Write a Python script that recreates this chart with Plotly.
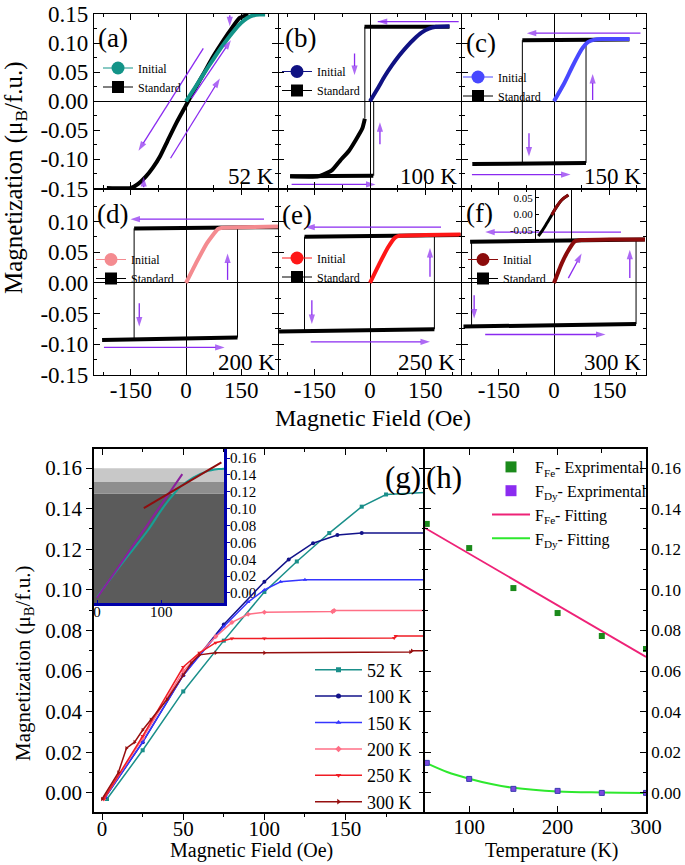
import plotly.graph_objects as go

FONT = "Liberation Serif, Times New Roman, serif"
FIG_W, FIG_H = 685, 865

# ======================= DATA =======================
# ---- top panels (a)-(f): hysteresis loops, field in Oe, M in muB/f.u.
TOP_XTICKS = [-150, 0, 150]
TOP_XMINOR = [-225, -75, 75, 225]
ROW1_YTICKS = [-0.15, -0.10, -0.05, 0.00, 0.05, 0.10, 0.15]
ROW2_YTICKS = [-0.15, -0.10, -0.05, 0.00, 0.05, 0.10]
TOP_YMINOR = [-0.125, -0.075, -0.025, 0.025, 0.075, 0.125]
TEMP_LABELS = ["52 K", "100 K", "150 K", "200 K", "250 K", "300 K"]
PANEL_LABELS = ["(a)", "(b)", "(c)", "(d)", "(e)", "(f)"]
INIT_COLORS = ["#139488", "#101283", "#4848ff", "#f48b90", "#ff1717", "#8b0b0b"]

INIT_A_H = [0, 25, 50, 75, 100, 125, 150, 175, 200, 215]
INIT_A_M = [0.000, 0.024, 0.049, 0.073, 0.096, 0.117, 0.135, 0.146, 0.149, 0.149]
INIT_B_H = [0, 20, 40, 60, 80, 100, 120, 140, 160, 180, 216]
INIT_B_M = [0.000, 0.021, 0.043, 0.062, 0.079, 0.094, 0.107, 0.118, 0.125, 0.128, 0.129]
INIT_C_H = [0, 27, 51, 75, 93, 110, 130, 205]
INIT_C_M = [0.000, 0.030, 0.061, 0.089, 0.102, 0.106, 0.107, 0.107]
INIT_D_H = [0, 27, 57, 87, 99, 150, 250]
INIT_D_M = [0.000, 0.032, 0.065, 0.088, 0.090, 0.091, 0.092]
INIT_E_H = [0, 26, 50, 68, 80, 150, 246]
INIT_E_M = [0.000, 0.032, 0.059, 0.074, 0.077, 0.078, 0.079]
INIT_F_H = [0, 21, 39, 57, 75, 150, 247]
INIT_F_M = [0.000, 0.032, 0.053, 0.068, 0.070, 0.071, 0.071]

# standard loop branches (thick) : list of (field list, M list)
STD_A = [([-215, -150, -130, -110, -90, -70, -50, -25, 0, 25, 50, 75, 100, 125, 145, 170],
          [-0.149, -0.149, -0.142, -0.130, -0.114, -0.094, -0.068, -0.036, -0.007, 0.022,
           0.050, 0.078, 0.103, 0.126, 0.143, 0.149])]
STD_B = [([216, -15], [0.128, 0.128]),
         ([-14, -21, -39, -57, -81, -104, -140, -217],
          [-0.030, -0.047, -0.067, -0.085, -0.102, -0.119, -0.129, -0.129]),
         ([-217, 9], [-0.129, -0.128])]
STD_C = [([205, -86], [0.106, 0.105]), ([-222, 87], [-0.108, -0.106])]
STD_D = [([250, -141], [0.091, 0.089]), ([-228, 140], [-0.093, -0.089])]
STD_E = [([246, -178], [0.078, 0.0755]), ([-247, 175], [-0.079, -0.0755])]
STD_F = [([247, -228], [0.071, 0.067]), ([-246, 223], [-0.071, -0.067])]
# switching jumps (thin): (field, M from, M to)
JUMPS_A = []
JUMPS_B = [(-14, 0.128, -0.030), (10, -0.128, 0.000)]
JUMPS_C = [(-86, 0.105, -0.107), (87, -0.106, 0.105)]
JUMPS_D = [(-141, 0.089, -0.092), (140, -0.089, 0.090)]
JUMPS_E = [(-178, 0.0755, -0.078), (175, -0.0755, 0.078)]
JUMPS_F = [(-224, 0.067, -0.071), (223, -0.067, 0.071)]
# sweep-direction arrows: (tail field, tail M, head field, head M)
ARROWS_A = [(47, 0.091, -129, -0.085), (15, 0.005, 122, 0.105), (-42, -0.098, 92, 0.039),
            (119, 0.148, 119, 0.129), (-115, -0.148, -115, -0.130)]
ARROWS_B = [(241, 0.137, 21, 0.137), (-42, 0.082, -42, 0.045), (27, -0.074, 27, -0.036),
            (-213, -0.143, 15, -0.143)]
ARROWS_C = [(235, 0.117, -74, 0.117), (-68, -0.055, -68, -0.095), (105, 0.002, 105, 0.047),
            (-223, -0.126, 45, -0.126)]
ARROWS_D = [(212, 0.104, -151, 0.104), (-127, -0.033, -127, -0.071), (113, 0.005, 113, 0.048),
            (-223, -0.105, 105, -0.105)]
ARROWS_E = [(193, 0.091, -176, 0.091), (-158, -0.028, -158, -0.067), (163, 0.010, 163, 0.057),
            (-161, -0.096, 163, -0.096)]
ARROWS_F = [(182, 0.083, -187, 0.083), (-217, -0.020, -217, -0.058), (39, 0.008, 75, 0.048),
            (206, 0.008, 206, 0.054), (-187, -0.084, 140, -0.084)]

# inset of (f)
INSET_F_H = [-52, -41, -23, -6, 11, 28, 51]
INSET_F_M = [-0.0666, -0.0534, -0.0276, -0.002, 0.0233, 0.0439, 0.0592]
INSET_F_YTICKS = [-0.05, 0.00, 0.05]

# ---- panel (g): initial magnetization curves
G_TEMPS = ["52 K", "100 K", "150 K", "200 K", "250 K", "300 K"]
G_COLORS = ["#1a8f8a", "#12128a", "#3535ff", "#ff6f86", "#f01c24", "#960f0f"]
G_SYMBOLS = ["square", "circle", "triangle-up", "diamond", "triangle-down", "triangle-right"]
G52_H = [3, 25, 50, 75, 100, 120, 140, 160, 175, 199]
G52_M = [-0.003, 0.021, 0.050, 0.075, 0.099, 0.114, 0.128, 0.141, 0.147, 0.148]
G100_H = [2, 25, 50, 75, 100, 115, 130, 145, 160, 199]
G100_M = [-0.002, 0.025, 0.058, 0.083, 0.104, 0.115, 0.123, 0.127, 0.128, 0.128]
G150_H = [2, 25, 50, 75, 90, 100, 110, 125, 199]
G150_M = [-0.002, 0.025, 0.058, 0.082, 0.094, 0.100, 0.104, 0.105, 0.105]
G200_H = [1, 25, 50, 70, 80, 90, 100, 142, 143, 199]
G200_M = [-0.003, 0.027, 0.060, 0.077, 0.084, 0.088, 0.089, 0.0893, 0.0898, 0.0898]
G250_H = [1, 25, 50, 60, 70, 80, 100, 180, 181, 199]
G250_M = [-0.003, 0.028, 0.062, 0.069, 0.074, 0.076, 0.076, 0.0763, 0.0773, 0.0773]
G300_H = [0, 10, 15, 20, 25, 30, 40, 50, 55, 60, 70, 100, 190, 191, 199]
G300_M = [-0.003, 0.010, 0.022, 0.025, 0.031, 0.036, 0.046, 0.058, 0.064, 0.068,
          0.0690, 0.0690, 0.0694, 0.0700, 0.0700]
G_XTICKS = [0, 50, 100, 150]
G_XMINOR = [25, 75, 125, 175]
G_YTICKS = [0.00, 0.02, 0.04, 0.06, 0.08, 0.10, 0.12, 0.14, 0.16]
G_YMINOR = [0.01, 0.03, 0.05, 0.07, 0.09, 0.11, 0.13, 0.15]

# inset of (g)
INS_G_TEAL_H = [0, 40, 80, 100, 115, 130, 150, 170, 190, 198]
INS_G_TEAL_M = [-0.005, 0.036, 0.075, 0.098, 0.113, 0.126, 0.137, 0.144, 0.147, 0.1475]
INS_G_LIN1_H = [0, 133]
INS_G_LIN1_M = [-0.006, 0.141]
INS_G_LIN2_H = [73, 194]
INS_G_LIN2_M = [0.1006, 0.155]
INS_G_BANDS = [-0.0119, 0.118, 0.1317, 0.148]
INS_G_BAND_COLORS = ["#5b5b5b", "#8e8e8e", "#c8c8c8"]
INS_G_XTICKS = [0, 100]

# ---- panel (h): fractions vs temperature
T_EXP = [52, 100, 150, 200, 250, 300]
FE_EXP = [0.1325, 0.1206, 0.1009, 0.0886, 0.0773, 0.0709]
DY_EXP = [0.0148, 0.0069, 0.0020, 0.0010, 0.0000, 0.0000]
FE_FIT_T = [50, 300]
FE_FIT_M = [0.1305, 0.067]
DY_FIT_T = [50, 75, 100, 125, 150, 200, 250, 300]
DY_FIT_M = [0.0150, 0.0103, 0.0070, 0.0044, 0.0025, 0.0007, 0.0002, 0.0000]
H_XTICKS = [100, 200, 300]
H_XMINOR = [150, 250]

ARROW_COLOR = "#8a2af0"

# ======================= LAYOUT HELPERS =======================
def px(x):
    return x / FIG_W


def py(y):
    return 1 - y / FIG_H


def ref(i, a):
    return a if i == 1 else f"{a}{i}"


def key(i, a):
    return f"{a}axis" if i == 1 else f"{a}axis{i}"


def fmt2(v):
    return f"{v:.2f}"


fig = go.Figure()
layout = {}
LW = 1.2

COLS_PX = [(94, 278), (278, 462), (462, 646)]
ROWS_PX = [(14, 188.5), (188.5, 375)]
ROW_RANGES = [[-0.15, 0.15], [-0.15, 0.154]]
ROW_YTICKS = [ROW1_YTICKS, ROW2_YTICKS]
INIT_H = [INIT_A_H, INIT_B_H, INIT_C_H, INIT_D_H, INIT_E_H, INIT_F_H]
INIT_M = [INIT_A_M, INIT_B_M, INIT_C_M, INIT_D_M, INIT_E_M, INIT_F_M]
STDS = [STD_A, STD_B, STD_C, STD_D, STD_E, STD_F]
JUMPS = [JUMPS_A, JUMPS_B, JUMPS_C, JUMPS_D, JUMPS_E, JUMPS_F]
ARROWS = [ARROWS_A, ARROWS_B, ARROWS_C, ARROWS_D, ARROWS_E, ARROWS_F]
LEG_POS = [(98, 53.5), (277, 57), (458, 62.5), (91, 245), (277, 243.5), (463, 245)]
LABEL_POS = [(113, 38), (300, 38), (481, 43), (113, 214), (297, 215), (479, 213)]
TEMP_POS = [(276, 176), (459, 176), (643, 176), (277, 363), (457, 363), (643, 363)]

TICKFONT_TOP = dict(family=FONT, size=23, color="black")
annotations = []

for i in range(6):
    n = i + 1
    row, col = divmod(i, 3)
    xr, yr = ref(n, "x"), ref(n, "y")
    c0, c1 = COLS_PX[col]
    r0, r1 = ROWS_PX[row]
    yt = ROW_YTICKS[row]
    layout[key(n, "x")] = dict(
        domain=[px(c0), px(c1)], anchor=yr, range=[-250, 250],
        tickmode="array", tickvals=TOP_XTICKS, ticktext=[str(v) for v in TOP_XTICKS],
        showticklabels=(row == 1), tickfont=TICKFONT_TOP, ticklabelstandoff=-6,
        ticks="inside", ticklen=6, tickwidth=1.2, tickcolor="black",
        minor=dict(tickmode="array", tickvals=TOP_XMINOR, ticks="inside", ticklen=3,
                   tickwidth=1, tickcolor="black"),
        showline=True, linecolor="black", linewidth=LW, mirror="allticks",
        showgrid=False, zeroline=True, zerolinecolor="black", zerolinewidth=1,
        automargin=False, fixedrange=True)
    layout[key(n, "y")] = dict(
        domain=[py(r1), py(r0)], anchor=xr, range=ROW_RANGES[row],
        tickmode="array", tickvals=yt, ticktext=[fmt2(v) for v in yt],
        showticklabels=(col == 0), tickfont=TICKFONT_TOP,
        ticks="inside", ticklen=6, tickwidth=1.2, tickcolor="black",
        minor=dict(tickmode="array", tickvals=TOP_YMINOR, ticks="inside", ticklen=3,
                   tickwidth=1, tickcolor="black"),
        showline=(col != 1), linecolor="black", linewidth=LW, mirror="allticks",
        showgrid=False, zeroline=True, zerolinecolor="black", zerolinewidth=1,
        automargin=False, fixedrange=True)

    for hs, ms in STDS[i]:
        fig.add_trace(go.Scatter(x=hs, y=ms, mode="lines",
                                 line=dict(color="black", width=4, shape="spline", smoothing=0.5),
                                 xaxis=xr, yaxis=yr, showlegend=False, hoverinfo="skip"))
    for h, m0, m1 in JUMPS[i]:
        fig.add_trace(go.Scatter(x=[h, h], y=[m0, m1], mode="lines",
                                 line=dict(color="black", width=1),
                                 xaxis=xr, yaxis=yr, showlegend=False, hoverinfo="skip"))
    fig.add_trace(go.Scatter(x=INIT_H[i], y=INIT_M[i], mode="lines",
                             line=dict(color=INIT_COLORS[i], width=4, shape="spline", smoothing=0.5),
                             xaxis=xr, yaxis=yr, showlegend=False, hoverinfo="skip"))
    # sweep-direction arrows drawn as line segments with an arrow marker at the head
    ax_x, ax_y, ax_s = [], [], []
    for th, tm, hh, hm in ARROWS[i]:
        ax_x += [th, hh, None]
        ax_y += [tm, hm, None]
        ax_s += [0, 10, 0]
    fig.add_trace(go.Scatter(x=ax_x, y=ax_y, mode="lines+markers",
                             line=dict(color=ARROW_COLOR, width=1.3),
                             marker=dict(symbol="arrow", size=ax_s, angleref="previous",
                                         color=ARROW_COLOR, line=dict(width=0)),
                             xaxis=xr, yaxis=yr, showlegend=False, hoverinfo="skip"))
    leg = "legend" if n == 1 else f"legend{n}"
    fig.add_trace(go.Scatter(x=[None], y=[None], mode="lines+markers", name="Initial",
                             line=dict(color=INIT_COLORS[i], width=1),
                             marker=dict(symbol="circle", size=13, color=INIT_COLORS[i]),
                             xaxis=xr, yaxis=yr, legend=leg))
    fig.add_trace(go.Scatter(x=[None], y=[None], mode="lines+markers", name="Standard",
                             line=dict(color="black", width=1),
                             marker=dict(symbol="square", size=12, color="black"),
                             xaxis=xr, yaxis=yr, legend=leg))
    lx, ly = LEG_POS[i]
    layout[leg] = dict(x=px(lx), y=py(ly), xanchor="left", yanchor="top",
                       bgcolor="rgba(0,0,0,0)", borderwidth=0, itemwidth=30,
                       itemsizing="trace", tracegroupgap=0,
                       font=dict(family=FONT, size=12, color="black"))
    lxp, lyp = LABEL_POS[i]
    annotations.append(dict(x=px(lxp), y=py(lyp), xref="paper", yref="paper", text=PANEL_LABELS[i],
                            showarrow=False, xanchor="center", yanchor="middle",
                            font=dict(family=FONT, size=27, color="black")))
    txp, typ = TEMP_POS[i]
    annotations.append(dict(x=px(txp), y=py(typ), xref="paper", yref="paper", text=TEMP_LABELS[i],
                            showarrow=False, xanchor="right", yanchor="middle",
                            font=dict(family=FONT, size=23, color="black")))

# ---- inset in (f)
layout["xaxis7"] = dict(domain=[px(536), px(571)], anchor="y7", range=[-60, 60], visible=False,
                        automargin=False, fixedrange=True)
layout["yaxis7"] = dict(domain=[py(241), py(190)], anchor="x7", range=[-0.082, 0.0745],
                        tickmode="array", tickvals=INSET_F_YTICKS,
                        ticktext=[fmt2(v) for v in INSET_F_YTICKS],
                        tickfont=dict(family=FONT, size=11, color="black"),
                        ticks="inside", ticklen=3, tickcolor="black",
                        showline=True, linecolor="black", linewidth=1, mirror=True,
                        showgrid=False, zeroline=False, automargin=False, fixedrange=True)
fig.add_trace(go.Scatter(x=INSET_F_H, y=INSET_F_M, mode="lines",
                         line=dict(color="black", width=3, shape="spline"),
                         xaxis="x7", yaxis="y7", showlegend=False, hoverinfo="skip"))
fig.add_trace(go.Scatter(x=INSET_F_H[3:], y=INSET_F_M[3:], mode="lines",
                         line=dict(color=INIT_COLORS[5], width=3, shape="spline"),
                         xaxis="x7", yaxis="y7", showlegend=False, hoverinfo="skip"))

# ---- inset of (g)  (axes 8)
layout["xaxis8"] = dict(domain=[px(94), px(224)], anchor="y8", range=[-4.7, 198],
                        tickmode="array", tickvals=INS_G_XTICKS,
                        ticktext=[str(v) for v in INS_G_XTICKS],
                        tickfont=dict(family=FONT, size=15, color="black"), ticklabelstandoff=-7,
                        ticks="inside", ticklen=3, tickcolor="#0000aa",
                        showline=True, linecolor="#0000aa", linewidth=3,
                        showgrid=False, zeroline=False, automargin=False, fixedrange=True)
layout["yaxis8"] = dict(domain=[py(603), py(449)], anchor="x8", range=[-0.0119, 0.1708],
                        side="right", tickmode="array", tickvals=G_YTICKS,
                        ticktext=[fmt2(v) for v in G_YTICKS],
                        tickfont=dict(family=FONT, size=15, color="black"), ticklabelstandoff=-3,
                        ticks="outside", ticklen=3, tickcolor="#0000aa",
                        showline=True, linecolor="#0000aa", linewidth=3,
                        showgrid=False, zeroline=False, automargin=False, fixedrange=True)
shapes = []
for k in range(3):
    shapes.append(dict(type="rect", xref="x8 domain", yref="y8", x0=0, x1=1,
                       y0=INS_G_BANDS[k], y1=INS_G_BANDS[k + 1],
                       fillcolor=INS_G_BAND_COLORS[k], line=dict(width=0), layer="below"))
fig.add_trace(go.Scatter(x=INS_G_TEAL_H, y=INS_G_TEAL_M, mode="lines",
                         line=dict(color="#17a096", width=2, shape="spline"),
                         xaxis="x8", yaxis="y8", showlegend=False, hoverinfo="skip"))
fig.add_trace(go.Scatter(x=INS_G_LIN1_H, y=INS_G_LIN1_M, mode="lines",
                         line=dict(color="#8b1f9e", width=2),
                         xaxis="x8", yaxis="y8", showlegend=False, hoverinfo="skip"))
fig.add_trace(go.Scatter(x=INS_G_LIN2_H, y=INS_G_LIN2_M, mode="lines",
                         line=dict(color="#8f0d0d", width=2),
                         xaxis="x8", yaxis="y8", showlegend=False, hoverinfo="skip"))

# ---- panel (g) (axes 9, overlays 11)
TICKFONT_BOT = dict(family=FONT, size=21, color="black")
G_Y_RANGE = [-0.0094, 0.1694]
layout["xaxis9"] = dict(domain=[px(94), px(425)], anchor="y9", range=[-5, 199],
                        tickmode="array", tickvals=G_XTICKS, ticktext=[str(v) for v in G_XTICKS],
                        tickfont=TICKFONT_BOT, ticklabelstandoff=-9,
                        ticks="outside", ticklen=6, tickwidth=1.2, tickcolor="black",
                        minor=dict(tickmode="array", tickvals=G_XMINOR, ticks="outside", ticklen=3,
                                   tickcolor="black"),
                        showline=True, linecolor="black", linewidth=1.5,
                        showgrid=False, zeroline=False, automargin=False, fixedrange=True)
layout["yaxis9"] = dict(domain=[py(812), py(449)], anchor="x9", range=G_Y_RANGE,
                        tickmode="array", tickvals=G_YTICKS, ticktext=[fmt2(v) for v in G_YTICKS],
                        tickfont=TICKFONT_BOT, ticks="outside", ticklen=6, tickwidth=1.2,
                        tickcolor="black",
                        minor=dict(tickmode="array", tickvals=G_YMINOR, ticks="outside", ticklen=3,
                                   tickcolor="black"),
                        showline=True, linecolor="black", linewidth=1.5,
                        showgrid=False, zeroline=False, automargin=False, fixedrange=True)
layout["xaxis11"] = dict(overlaying="x9", anchor="y9", side="top", range=[-5, 199],
                         tickmode="array", tickvals=G_XTICKS, showticklabels=False,
                         ticks="inside", ticklen=6, tickwidth=1.2, tickcolor="black",
                         minor=dict(tickmode="array", tickvals=G_XMINOR, ticks="inside", ticklen=3,
                                    tickcolor="black"),
                         showline=True, linecolor="black", linewidth=1.5,
                         showgrid=False, zeroline=False, automargin=False, fixedrange=True)
layout["yaxis11"] = dict(overlaying="y9", anchor="x9", side="right", range=G_Y_RANGE,
                         tickmode="array", tickvals=G_YTICKS, showticklabels=False,
                         ticks="inside", ticklen=6, tickwidth=1.2, tickcolor="black",
                         minor=dict(tickmode="array", tickvals=G_YMINOR, ticks="inside", ticklen=3,
                                    tickcolor="black"),
                         showline=False,
                         showgrid=False, zeroline=False, automargin=False, fixedrange=True)
fig.add_trace(go.Scatter(x=[None], y=[None], xaxis="x11", yaxis="y9", showlegend=False))
fig.add_trace(go.Scatter(x=[None], y=[None], xaxis="x9", yaxis="y11", showlegend=False))

G_H = [G52_H, G100_H, G150_H, G200_H, G250_H, G300_H]
G_M = [G52_M, G100_M, G150_M, G200_M, G250_M, G300_M]
for k in range(6):
    fig.add_trace(go.Scatter(x=G_H[k], y=G_M[k], mode="lines+markers",
                             line=dict(color=G_COLORS[k], width=1.5),
                             marker=dict(symbol=G_SYMBOLS[k], size=4, color=G_COLORS[k]),
                             xaxis="x9", yaxis="y9", showlegend=False, hoverinfo="skip"))
for k in range(6):
    fig.add_trace(go.Scatter(x=[None], y=[None], mode="lines+markers", name=G_TEMPS[k],
                             line=dict(color=G_COLORS[k], width=1.5),
                             marker=dict(symbol=G_SYMBOLS[k], size=5, color=G_COLORS[k]),
                             xaxis="x9", yaxis="y9", legend="legend7"))
layout["legend7"] = dict(x=px(310), y=py(651.5), xanchor="left", yanchor="top",
                         bgcolor="rgba(0,0,0,0)", borderwidth=0, itemwidth=47,
                         itemsizing="trace", tracegroupgap=0,
                         font=dict(family=FONT, size=18, color="black"))

# ---- panel (h) (axes 10)
layout["xaxis10"] = dict(domain=[px(425), px(646)], anchor="y10", range=[50, 300],
                         tickmode="array", tickvals=H_XTICKS, ticktext=[str(v) for v in H_XTICKS],
                         tickfont=TICKFONT_BOT, ticklabelstandoff=-5,
                         ticks="inside", ticklen=6, tickwidth=1.2, tickcolor="black",
                         minor=dict(tickmode="array", tickvals=H_XMINOR, ticks="inside", ticklen=4,
                                    tickcolor="black"),
                         showline=True, linecolor="black", linewidth=1.5, mirror="allticks",
                         showgrid=False, zeroline=False, automargin=False, fixedrange=True)
layout["yaxis10"] = dict(domain=[py(812), py(449)], anchor="x10", range=G_Y_RANGE, side="right",
                         tickmode="array", tickvals=G_YTICKS, ticktext=[fmt2(v) for v in G_YTICKS],
                         tickfont=dict(family=FONT, size=17, color="black"),
                         ticks="inside", ticklen=6, tickwidth=1.2,
                         tickcolor="black",
                         minor=dict(tickmode="array", tickvals=G_YMINOR, ticks="inside", ticklen=3,
                                    tickcolor="black"),
                         showline=True, linecolor="black", linewidth=1.5, mirror="allticks",
                         showgrid=False, zeroline=False, automargin=False, fixedrange=True)
fig.add_trace(go.Scatter(x=FE_FIT_T, y=FE_FIT_M, mode="lines", line=dict(color="#ee2277", width=1.8),
                         xaxis="x10", yaxis="y10", showlegend=False, hoverinfo="skip"))
fig.add_trace(go.Scatter(x=DY_FIT_T, y=DY_FIT_M, mode="lines",
                         line=dict(color="#2ee82e", width=2, shape="spline"),
                         xaxis="x10", yaxis="y10", showlegend=False, hoverinfo="skip"))
fig.add_trace(go.Scatter(x=T_EXP, y=FE_EXP, mode="markers",
                         marker=dict(symbol="square", size=6, color="#1b8a1b"),
                         xaxis="x10", yaxis="y10", showlegend=False, hoverinfo="skip"))
fig.add_trace(go.Scatter(x=T_EXP, y=DY_EXP, mode="markers",
                         marker=dict(symbol="square", size=5, color="#7a48e0",
                                     line=dict(color="#3b3bb0", width=1)),
                         xaxis="x10", yaxis="y10", showlegend=False, hoverinfo="skip"))
H_LEG = [("F<sub>Fe</sub>- Exprimental", "markers", "#1b8a1b"),
         ("F<sub>Dy</sub>- Exprimental", "markers", "#8b2cf0"),
         ("F<sub>Fe</sub>- Fitting", "lines", "#ee2277"),
         ("F<sub>Dy</sub>- Fitting", "lines", "#2ee82e")]
for name, mode, colr in H_LEG:
    fig.add_trace(go.Scatter(x=[None], y=[None], mode=mode, name=name,
                             line=dict(color=colr, width=2),
                             marker=dict(symbol="square", size=11, color=colr),
                             xaxis="x10", yaxis="y10", legend="legend8"))
layout["legend8"] = dict(x=px(487), y=py(450), xanchor="left", yanchor="top",
                         bgcolor="rgba(0,0,0,0)", borderwidth=0, itemwidth=38,
                         itemsizing="trace", tracegroupgap=0,
                         font=dict(family=FONT, size=16, color="black"))

# ---- titles / labels
annotations += [
    dict(x=px(15), y=py(178), xref="paper", yref="paper", textangle=-90,
         xanchor="center", yanchor="middle",
         text="Magnetization (μ<sub>B</sub>/f.u.)", showarrow=False,
         font=dict(family=FONT, size=25, color="black")),
    dict(x=px(373), y=py(418), xref="paper", yref="paper", text="Magnetic Field (Oe)",
         xanchor="center", yanchor="middle",
         showarrow=False, font=dict(family=FONT, size=24, color="black")),
    dict(x=px(24), y=py(664), xref="paper", yref="paper", textangle=-90,
         xanchor="center", yanchor="middle",
         text="Magnetization (μ<sub>B</sub>/f.u.)", showarrow=False,
         font=dict(family=FONT, size=21, color="black")),
    dict(x=px(251), y=py(850), xref="paper", yref="paper", text="Magnetic Field (Oe)",
         xanchor="center", yanchor="middle",
         showarrow=False, font=dict(family=FONT, size=20, color="black")),
    dict(x=px(552), y=py(850), xref="paper", yref="paper", text="Temperature (K)",
         xanchor="center", yanchor="middle",
         showarrow=False, font=dict(family=FONT, size=20, color="black")),
    dict(x=px(403), y=py(478), xref="paper", yref="paper", text="(g)",
         xanchor="center", yanchor="middle",
         showarrow=False, font=dict(family=FONT, size=31, color="black")),
    dict(x=px(444), y=py(478), xref="paper", yref="paper", text="(h)",
         xanchor="center", yanchor="middle",
         showarrow=False, font=dict(family=FONT, size=31, color="black")),
]

fig.update_layout(
    template="none", width=FIG_W, height=FIG_H,
    margin=dict(l=0, r=0, t=0, b=0, pad=0),
    paper_bgcolor="white", plot_bgcolor="rgba(0,0,0,0)",
    font=dict(family=FONT, color="black"),
    showlegend=True, annotations=annotations, shapes=shapes,
    **layout,
)
fig.write_html("out.html", config={"displayModeBar": False},
               post_script="document.body.style.margin='0';document.body.style.padding='0';")
